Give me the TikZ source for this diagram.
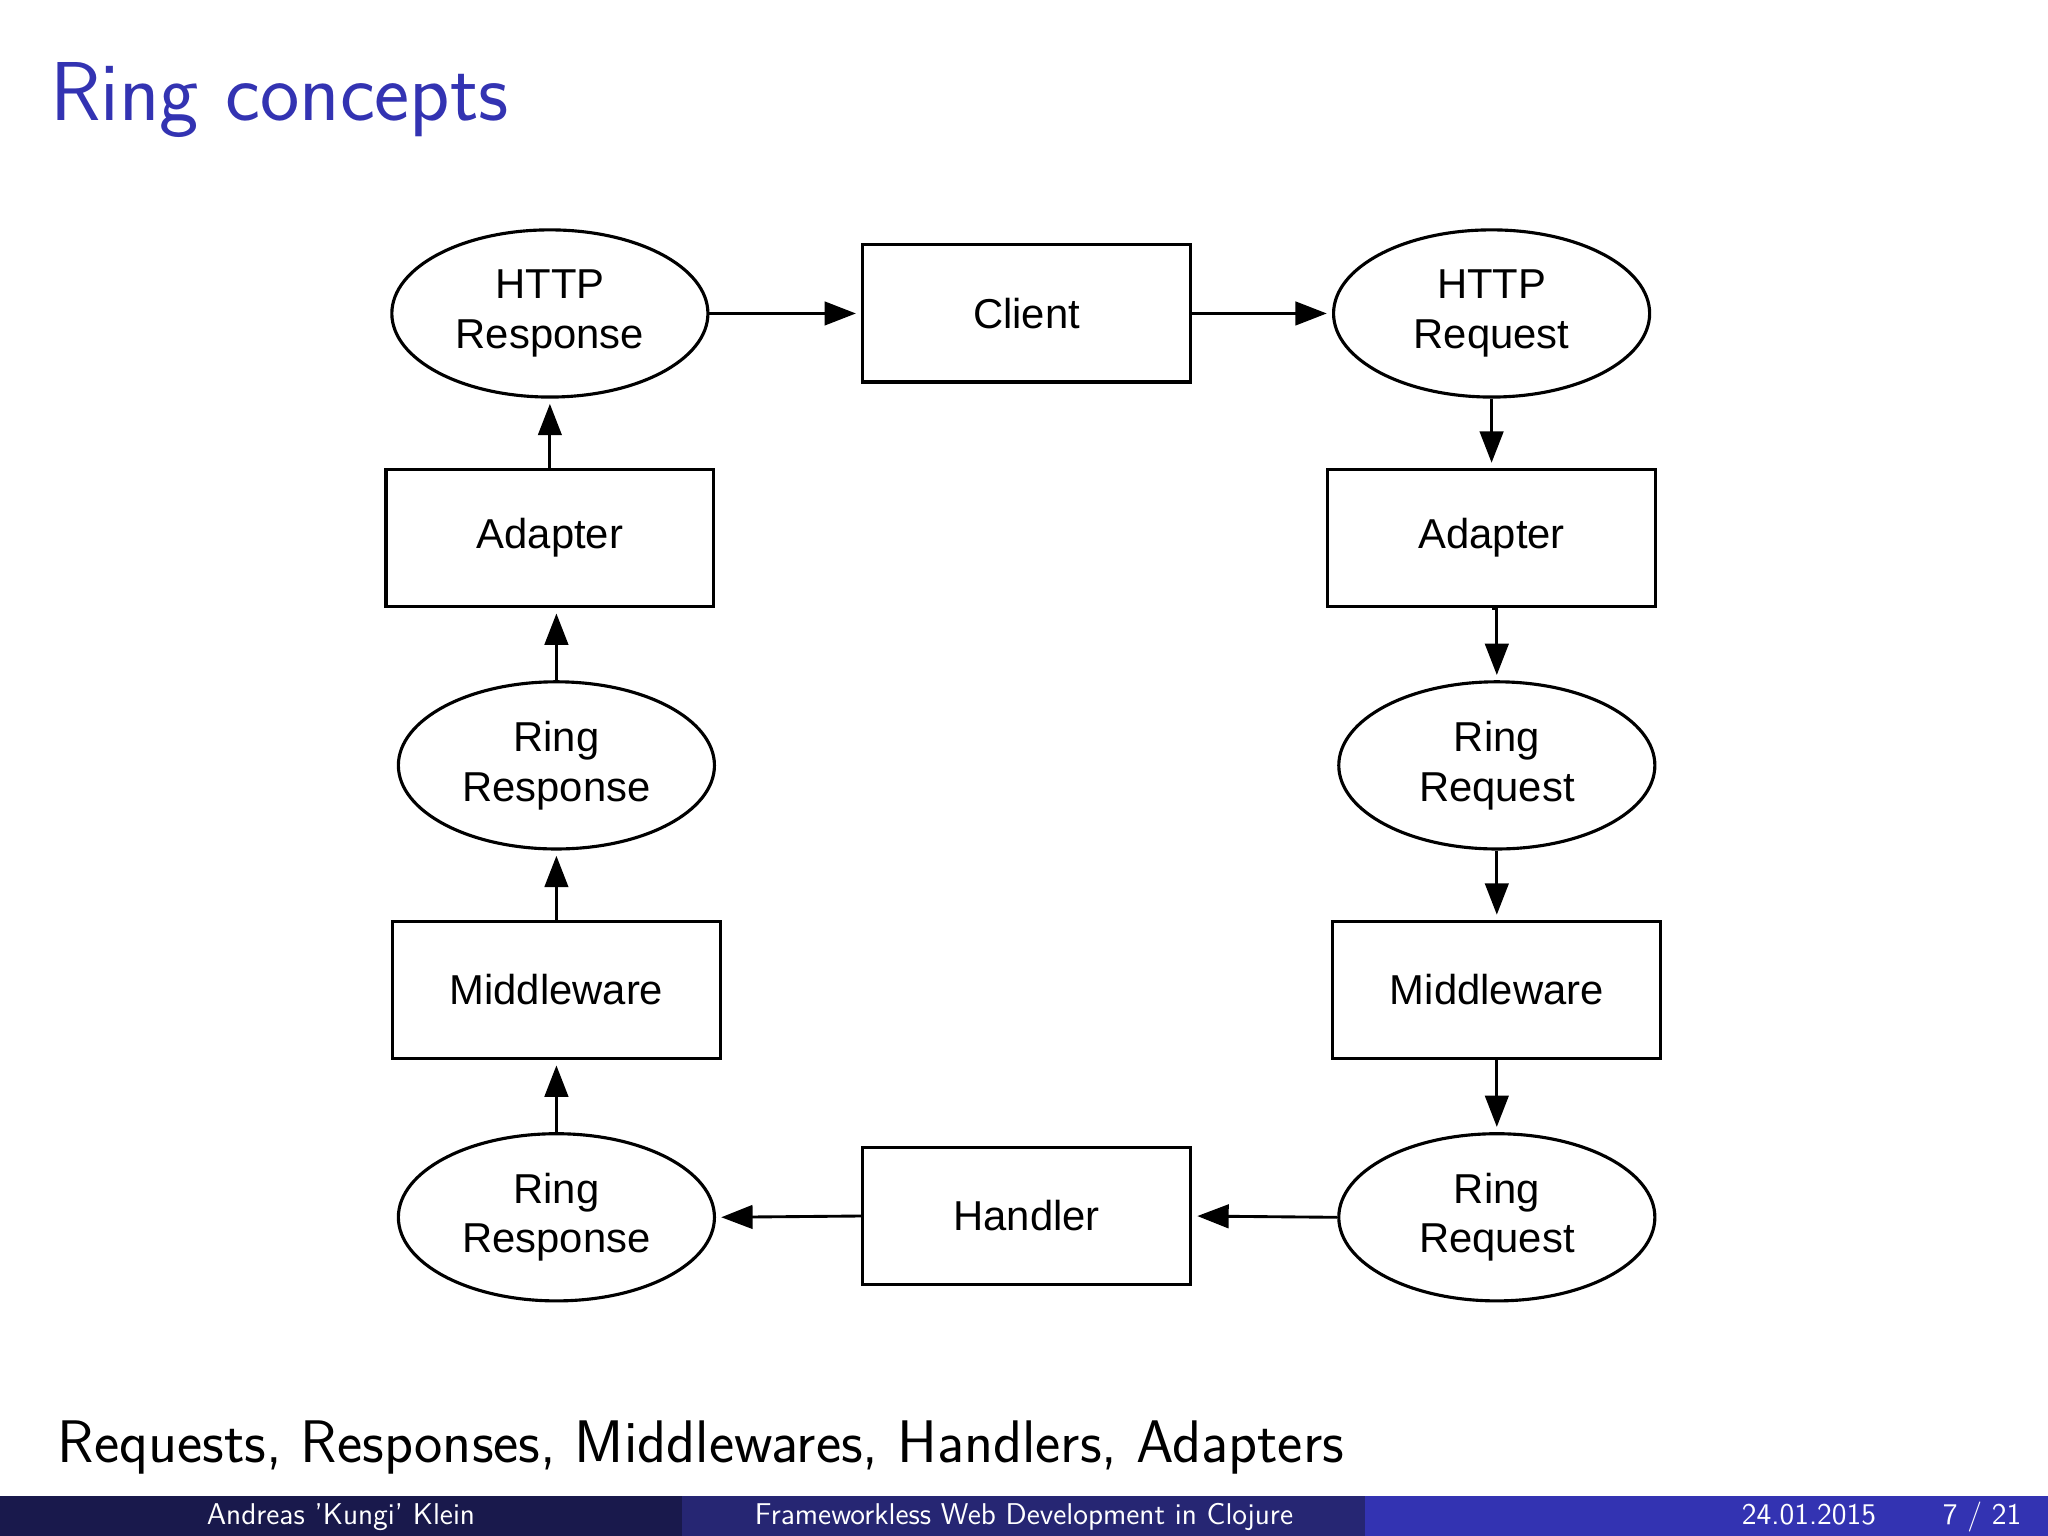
\documentclass[tikz,border=0pt]{standalone}
\usepackage{fontspec}
\newfontfamily\diag{Liberation Sans}
\usetikzlibrary{shapes.geometric,arrows.meta}
\definecolor{titleblue}{RGB}{51,51,178}
\definecolor{barA}{RGB}{25,25,76}
\definecolor{barB}{RGB}{38,38,115}
\definecolor{barC}{RGB}{51,51,178}
\begin{document}
\begin{tikzpicture}[x=0.5pt,y=-0.5pt,
  el/.style={ellipse,draw,line width=1.2pt,minimum width=121pt,minimum height=64pt,inner sep=0pt,align=center,font=\diag\fontsize{16}{19}\selectfont},
  bx/.style={rectangle,draw,line width=1.2pt,minimum width=125.5pt,minimum height=52.5pt,inner sep=0pt,align=center,font=\diag\fontsize{16}{19}\selectfont},
  ar/.style={line width=1.1pt,-{Triangle[length=12pt,width=9pt]},shorten >=2pt},
  ft/.style={text=white,font=\sffamily\fontsize{11.5}{13}\selectfont,inner sep=0pt}]
\useasboundingbox (0,0) rectangle (1568,1176);
\node[anchor=base west,inner sep=0pt,text=titleblue,font=\sffamily\fontsize{32}{38}\selectfont] (title) at (38,92) {Ring concepts};
\node[el] (hres) at (421,240) {HTTP\\Response};
\node[bx] (cl) at (786,240) {Client};
\node[el] (hreq) at (1142,240) {HTTP\\Request};
\node[bx] (adl) at (421,412) {Adapter};
\node[bx] (adr) at (1142,412) {Adapter};
\node[el] (rres1) at (426,586) {Ring\\Response};
\node[el] (rreq1) at (1146,586) {Ring\\Request};
\node[bx] (mwl) at (426,758) {Middleware};
\node[bx] (mwr) at (1146,758) {Middleware};
\node[el] (rres2) at (426,932) {Ring\\Response};
\node[bx] (hd) at (786,931) {Handler};
\node[el] (rreq2) at (1146,932) {Ring\\Request};
\draw[ar] (hres.east) -- (cl.west);
\draw[ar] (cl.east) -- (hreq.west);
\draw[ar] (hreq.south) -- (hreq.south |- adr.north);
\draw[ar] (adr.south) -- (adr.south -| rreq1.north) -- (rreq1.north);
\draw[ar] (rreq1.south) -- (mwr.north);
\draw[ar] (mwr.south) -- (rreq2.north);
\draw[ar] (rreq2.west) -- (hd.east);
\draw[ar] (hd.west) -- (rres2.east);
\draw[ar] (rres2.north) -- (mwl.south);
\draw[ar] (mwl.north) -- (rres1.south);
\draw[ar] (rres1.north) -- (rres1.north |- adl.south);
\draw[ar] (adl.north) -- (hres.south);
\node[anchor=base west,inner sep=0pt,font=\sffamily\fontsize{23}{27}\selectfont] (sum) at (44,1120) {Requests, Responses, Middlewares, Handlers, Adapters};
\fill[barA] (0,1145) rectangle (522,1176);
\fill[barB] (522,1145) rectangle (1045,1176);
\fill[barC] (1045,1145) rectangle (1568,1176);
\node[ft,anchor=base] (f1) at (261,1167) {Andreas 'Kungi' Klein};
\node[ft,anchor=base] (f2) at (784,1167) {Frameworkless Web Development in Clojure};
\node[ft,anchor=base] (f3) at (1385,1167) {24.01.2015};
\node[ft,anchor=base east] (f4) at (1548,1167) {7 / 21};
\end{tikzpicture}
\end{document}
